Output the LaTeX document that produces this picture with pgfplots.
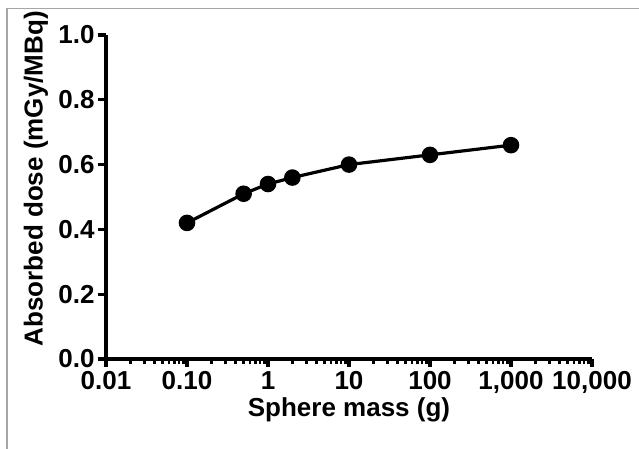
\documentclass[border=0pt]{standalone}
\usepackage{fontspec}
\setmainfont{Liberation Sans}
\usepackage{pgfplots}
\pgfplotsset{compat=1.18}
\begin{document}
\begin{tikzpicture}
\useasboundingbox (0,0) rectangle (479.25pt,336.75pt);
\draw[gray!70, line width=1.4pt] (5.25pt,0) -- (5.25pt,330.4pt) -- (479.25pt,330.4pt);
\begin{axis}[
  at={(79.5pt,67.5pt)}, anchor=south west,
  scale only axis, width=364.5pt, height=243pt,
  xmode=log, xmin=0.01, xmax=10000, ymin=0, ymax=1,
  axis lines=left, axis line style={-, line width=2.4pt},
  xtick={0.01,0.1,1,10,100,1000,10000},
  xticklabels={0.01,0.10,1,10,100,{1,000},{10,000}},
  minor xtick={0.02,0.03,0.04,0.05,0.06,0.07,0.08,0.09,
    0.2,0.3,0.4,0.5,0.6,0.7,0.8,0.9,
    2,3,4,5,6,7,8,9,
    20,30,40,50,60,70,80,90,
    200,300,400,500,600,700,800,900,
    2000,3000,4000,5000,6000,7000,8000,9000},
  ytick={0,0.2,0.4,0.6,0.8,1.0},
  yticklabel style={/pgf/number format/fixed, /pgf/number format/precision=1, /pgf/number format/fixed zerofill},
  /pgf/number format/assume math mode=true,
  tick align=outside, major tick length=6pt, minor tick length=4pt,
  every tick/.style={black, line width=2.4pt},
  minor tick style={line width=2pt},
  tick label style={font=\fontsize{19.5}{22}\selectfont\bfseries},
  xticklabel style={yshift=0pt},
  yticklabel style={xshift=1pt},
  label style={font=\fontsize{19.5}{22}\selectfont\bfseries},
  xlabel style={yshift=4pt},
  ylabel style={at={(ticklabel cs:0.556)}, yshift=1pt},
  xlabel={Sphere mass (g)},
  ylabel={Absorbed dose (mGy/MBq)},
  clip=false,
]
\addplot[black, line width=2.4pt, mark=*, mark size=5pt] coordinates {
  (0.1,0.42) (0.5,0.51) (1,0.54) (2,0.56) (10,0.60) (100,0.63) (1000,0.66)
};
\end{axis}
\end{tikzpicture}
\end{document}
